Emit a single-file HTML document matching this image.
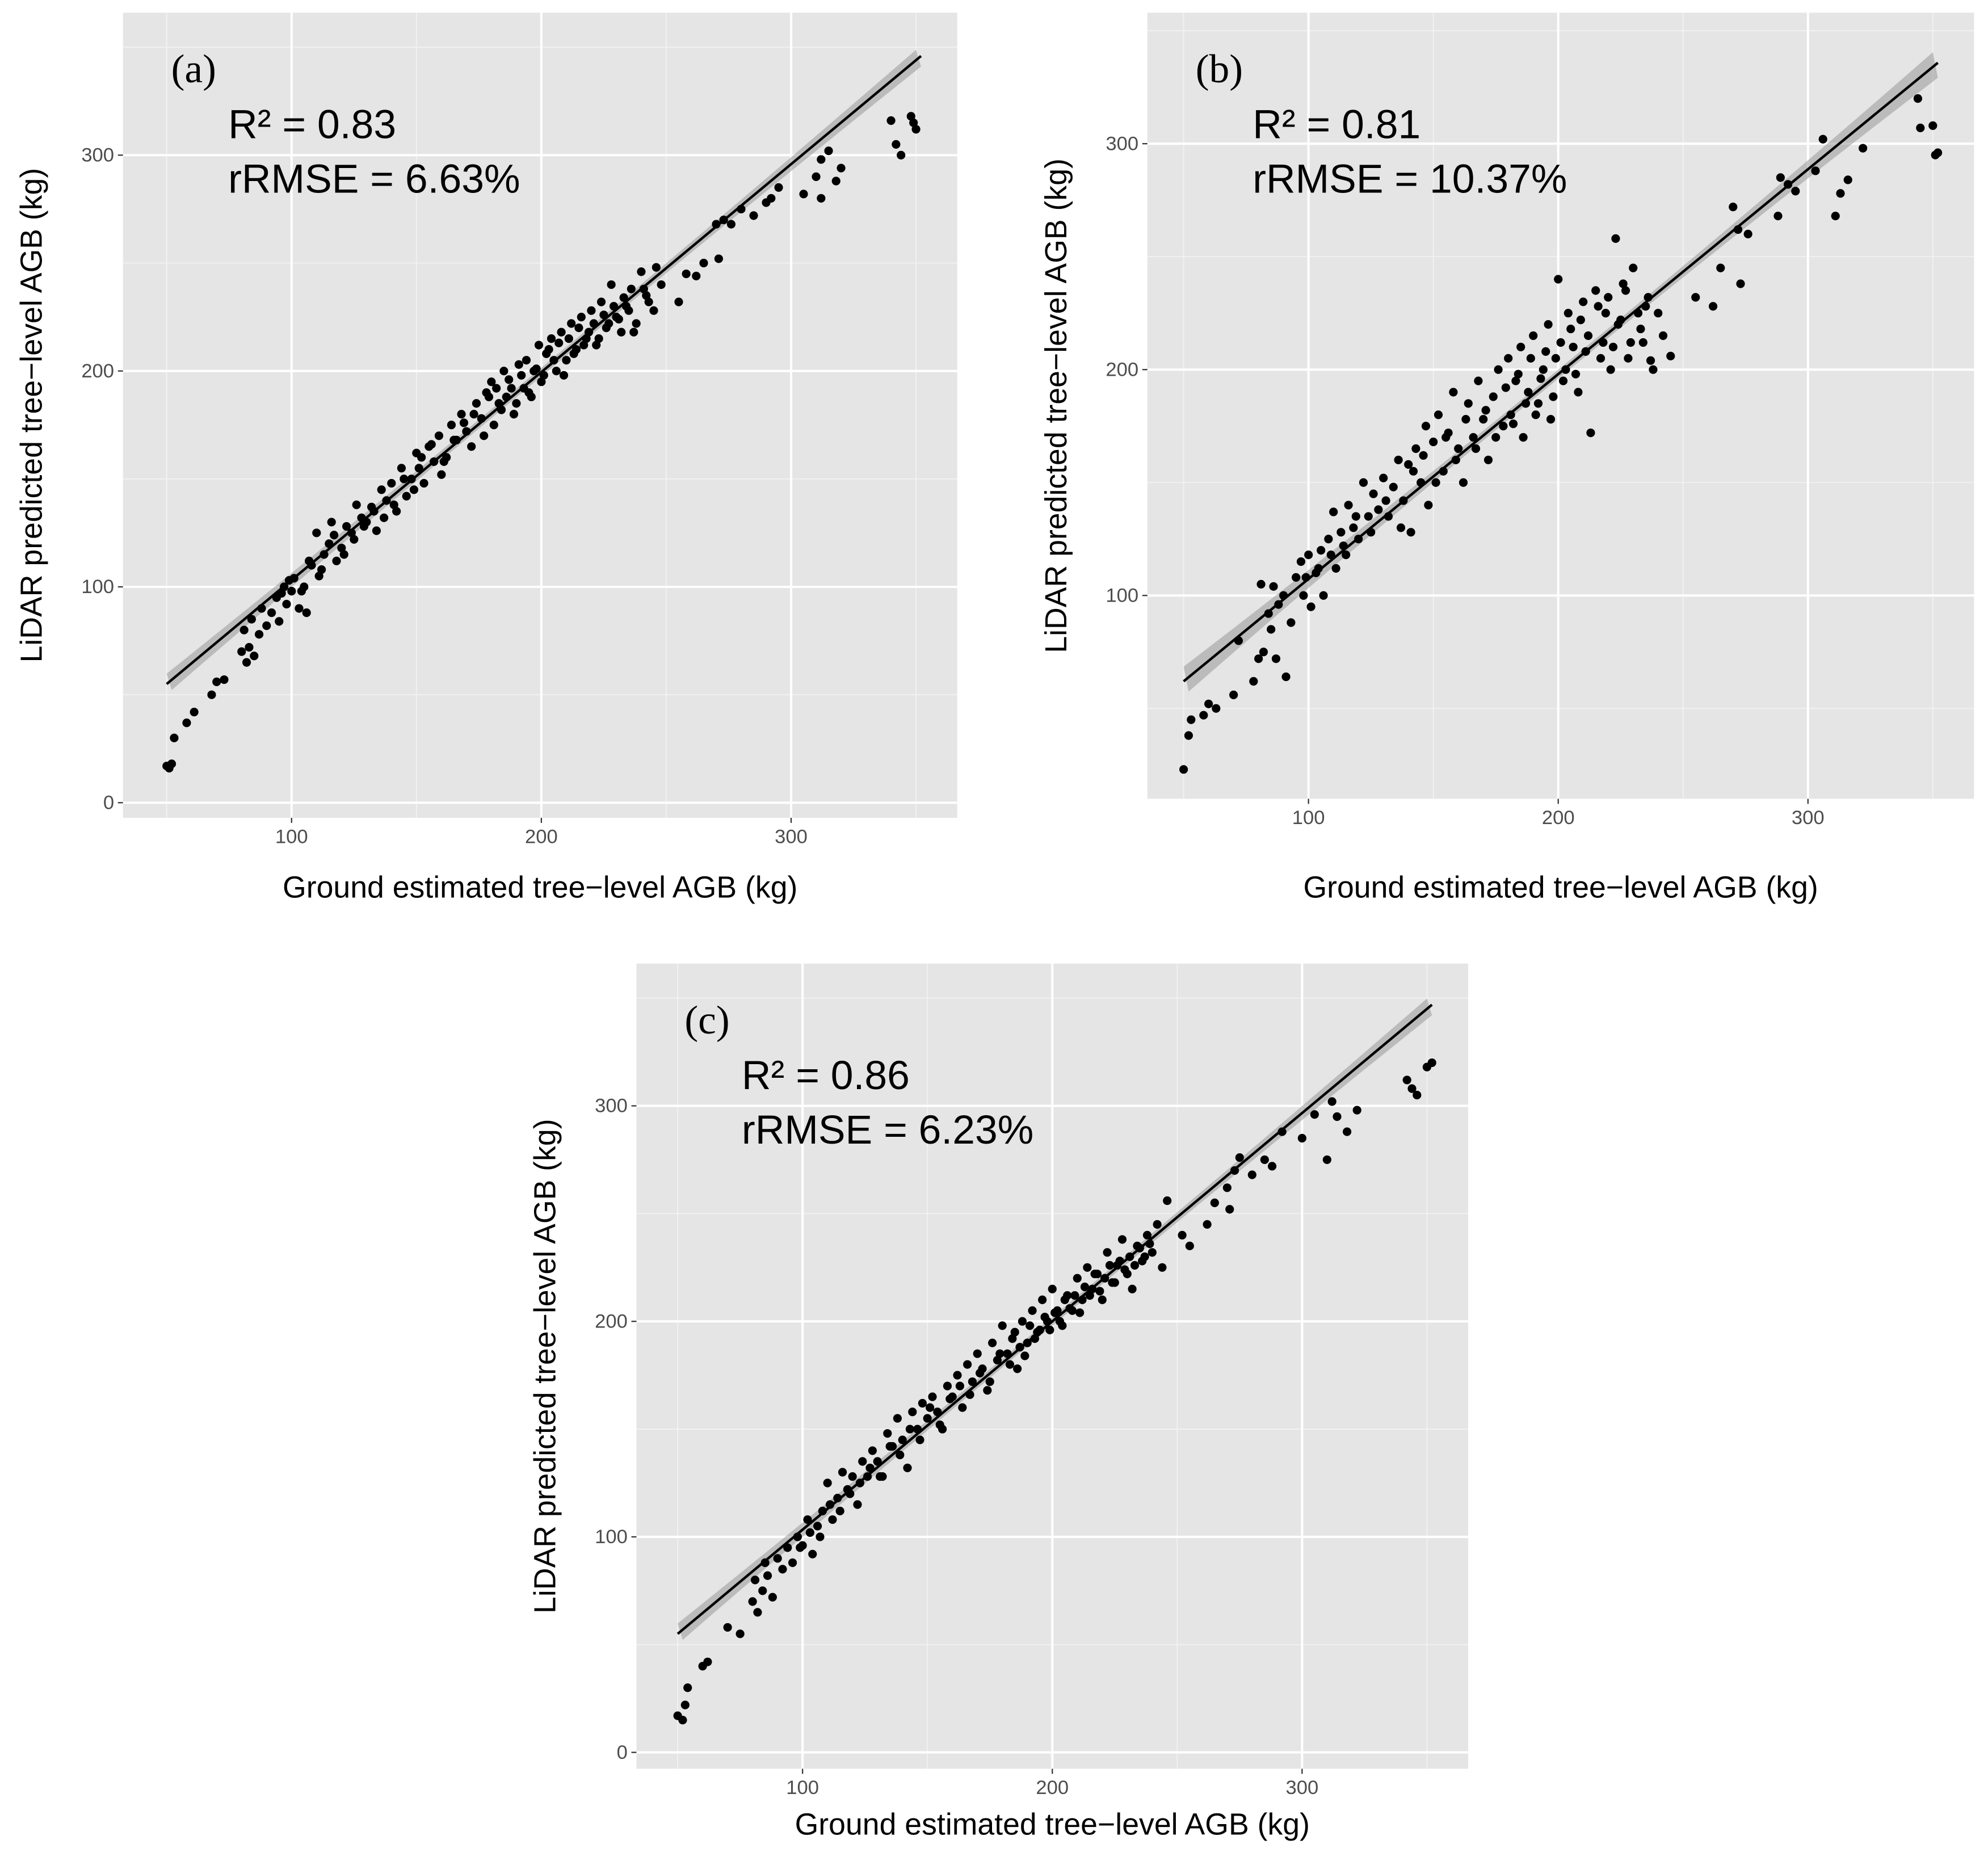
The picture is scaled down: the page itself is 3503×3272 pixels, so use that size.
<!DOCTYPE html>
<html><head><meta charset="utf-8"><style>
html,body{margin:0;padding:0;background:#fff}
svg{display:block}
</style></head><body>
<svg id="fig" width="3503" height="3272" viewBox="0 0 1568 1464.6" xmlns="http://www.w3.org/2000/svg" font-family="Liberation Sans, sans-serif"></svg>
<script>
const xTicks=[100,200,300];
const yTicksA=[0,100,200,300];
const yTicksB=[100,200,300];
const aX=[50,51,52,53,58,61,68,70,73,80,81,82,83,84,85,87,88,90,92,94,95,97,98,100,101,103,105,106,108,110,111,113,115,116,118,120,122,124,126,128,130,132,134,136,138,140,142,144,146,148,150,151,153,155,157,159,160,162,164,166,168,170,172,174,176,178,180,181,183,185,186,188,190,192,194,195,197,199,200,202,204,206,208,210,212,214,216,218,220,222,224,226,228,230,232,234,236,238,240,242,245,248,255,258,262,265,270,271,273,276,280,285,290,292,295,305,310,312,315,318,320,312,340,342,344,348,350,349,
 96,99,104,107,112,117,121,125,129,133,137,141,145,149,152,156,161,165,169,173,177,179,182,184,187,189,191,193,196,198,201,203,205,207,209,211,213,215,217,219,221,223,225,227,229,231,233,235,237,241,243,246];
const aY=[17,16,18,30,37,42,50,56,57,70,80,65,72,85,68,78,90,82,88,95,84,100,92,98,104,90,100,88,110,125,105,115,120,130,112,118,128,125,138,132,130,137,126,145,140,148,135,155,142,150,162,155,148,165,158,170,152,160,175,168,180,172,165,185,178,190,195,175,185,200,188,192,185,198,205,190,200,212,195,208,215,200,218,205,222,210,225,215,228,212,232,220,240,225,218,230,238,222,246,235,228,240,232,245,244,250,268,252,270,268,275,272,278,280,285,282,290,298,302,288,294,280,316,305,300,318,312,315,
 97,103,98,112,108,124,115,122,128,135,132,138,150,145,160,166,158,168,176,180,170,188,192,182,196,180,203,192,188,201,198,210,205,213,198,215,208,220,212,218,222,215,226,222,230,224,234,228,218,238,232,248];
const bX=[50,52,53,58,60,63,70,72,78,80,81,82,84,85,86,87,88,90,91,93,95,97,98,100,101,103,105,106,108,110,111,113,115,116,118,120,122,124,126,128,130,132,134,136,138,140,141,143,145,147,148,150,152,154,156,158,160,162,164,166,168,170,172,174,176,178,180,181,183,185,186,188,190,192,194,196,197,199,200,202,204,206,208,210,212,213,215,217,219,221,223,224,226,228,230,232,234,236,238,240,242,245,255,262,265,270,272,273,276,288,289,292,295,303,306,311,313,316,322,344,345,350,351,352,
 99,104,109,114,119,125,131,137,142,146,151,155,159,163,167,171,175,179,182,184,187,189,191,193,195,198,201,203,205,207,209,211,216,218,220,222,225,227,229,233,235,237];
const bY=[23,38,45,47,52,50,56,80,62,72,105,75,92,85,104,72,96,100,64,88,108,115,100,118,95,110,120,100,125,137,112,128,118,140,130,125,150,135,145,138,152,135,148,160,142,158,128,165,150,175,140,168,180,155,172,190,165,150,185,170,195,178,160,188,200,175,205,180,195,210,170,190,215,185,200,220,178,205,240,195,225,210,190,230,215,172,235,205,225,200,258,220,238,205,245,225,212,232,200,225,215,206,232,228,245,272,262,238,260,268,285,282,279,288,302,268,278,284,298,320,307,308,295,296,
 108,112,118,122,135,128,142,130,155,162,150,170,160,178,165,182,170,192,176,198,185,205,180,196,208,188,212,200,218,198,222,208,228,212,232,210,222,235,212,218,228,204];
const cX=[50,52,53,54,60,62,70,75,80,81,82,84,85,86,88,90,92,94,96,98,100,102,104,106,108,110,112,114,116,118,120,122,124,126,128,130,132,134,136,138,140,142,144,146,148,150,152,154,156,158,160,162,164,166,168,170,172,174,176,178,180,182,184,186,188,190,192,194,196,198,200,202,204,206,208,210,212,214,216,218,220,222,224,226,228,230,232,234,236,238,240,242,244,246,252,255,262,265,270,271,273,275,280,285,288,292,300,305,310,312,314,318,322,342,344,346,350,352,
 99,103,107,111,115,119,123,127,131,135,139,143,147,151,155,159,163,167,171,175,179,183,185,187,189,191,193,195,197,199,201,203,205,207,209,211,213,215,217,219,221,223,225,227,229,231,233,235,237,239];
const cY=[17,15,22,30,40,42,58,55,70,80,65,75,88,82,72,90,85,95,88,100,96,108,92,105,112,125,108,118,130,122,128,115,135,128,140,135,128,148,142,155,145,132,158,150,162,155,165,158,150,170,165,175,160,180,172,185,178,168,190,182,198,185,192,178,200,190,205,195,210,200,215,205,198,212,205,220,210,225,215,222,210,232,218,226,238,222,215,235,228,240,232,245,225,256,240,235,245,255,262,252,270,276,268,275,272,288,285,296,275,302,295,288,298,312,308,305,318,320,
 95,102,100,115,112,120,125,132,128,142,138,150,145,160,152,164,170,166,176,172,185,180,195,188,184,198,192,196,202,196,204,200,210,206,212,204,216,212,222,214,220,226,218,228,224,230,226,234,230,236];
const fitA=[55,344], fitB=[62,334], fitC=[55,345];

const svg=document.getElementById('fig');
const NS='http://www.w3.org/2000/svg';
function mk(tag,attrs,parent){const e=document.createElementNS(NS,tag);for(const k in attrs)e.setAttribute(k,attrs[k]);(parent||svg).appendChild(e);return e;}

function panel(cfg){
  const g=mk('g',{});
  
  
  const {L,R,T,B,xmin,xmax,ymin,ymax}=cfg;
  const sx=v=>L+(v-xmin)/(xmax-xmin)*(R-L);
  const sy=v=>B-(v-ymin)/(ymax-ymin)*(B-T);
  const bg=mk('rect',{x:L,y:T,width:R-L,height:B-T,fill:'#e5e5e5'},g);
  
  
  const minors=[50,150,250,350];
  minors.forEach(v=>{
    if(v>xmin&&v<xmax)mk('line',{x1:sx(v),x2:sx(v),y1:T,y2:B,stroke:'#f2f2f2','stroke-width':0.8},g);
    if(v>ymin&&v<ymax)mk('line',{x1:L,x2:R,y1:sy(v),y2:sy(v),stroke:'#f2f2f2','stroke-width':0.8},g);
  });
  xTicks.forEach(v=>{
    const l=mk('line',{x1:sx(v),x2:sx(v),y1:T,y2:B,stroke:'#fff','stroke-width':1.8},g);
    
    
    mk('line',{x1:sx(v),x2:sx(v),y1:B,y2:B+4,stroke:'#333','stroke-width':1},g);
    const t=mk('text',{x:sx(v),y:B+20,'font-size':15.5,'text-anchor':'middle',fill:'#4d4d4d'},g);
    t.textContent=v;
    
    
  });
  cfg.yTicks.forEach(v=>{
    const l=mk('line',{x1:L,x2:R,y1:sy(v),y2:sy(v),stroke:'#fff','stroke-width':1.8},g);
    
    
    mk('line',{x1:L-4,x2:L,y1:sy(v),y2:sy(v),stroke:'#333','stroke-width':1},g);
    const t=mk('text',{x:L-7,y:sy(v)+5,'font-size':15.5,'text-anchor':'end',fill:'#4d4d4d'},g);
    t.textContent=v;
    
    
  });
  const f=cfg.fit, x0=50, x1=352;
  const slope=(f[1]-f[0])/300;
  const yAt=x=>f[0]+slope*(x-50);
  const w=x=>2+0.0005*Math.pow(x-200,2)*cfg.bw;
  let pts=[];
  for(let x=x0;x<=x1;x+=6)pts.push(sx(x)+','+sy(yAt(x)+w(x)));
  for(let x=x1;x>=x0;x-=6)pts.push(sx(x)+','+sy(yAt(x)-w(x)));
  const band=mk('polygon',{points:pts.join(' '),fill:'#999','fill-opacity':0.55},g);
  
  
  cfg.xs.forEach((x,i)=>{
    const c=mk('circle',{cx:sx(x),cy:sy(cfg.ys[i]),r:3.4,fill:'#000'},g);
    
    
  });
  const ln=mk('line',{x1:sx(x0),y1:sy(yAt(x0)),x2:sx(x1),y2:sy(yAt(x1)),stroke:'#000','stroke-width':2},g);
  
  
  const xt=mk('text',{x:(L+R)/2,y:B+cfg.xtOff,'font-size':24,'text-anchor':'middle',fill:'#000'},g);
  xt.textContent='Ground estimated tree\u2212level AGB (kg)';
  
  
  const yt=mk('text',{x:0,y:0,'font-size':24,'text-anchor':'middle',fill:'#000',transform:`translate(${L-64},${(T+B)/2}) rotate(-90)`},g);
  yt.textContent='LiDAR predicted tree\u2212level AGB (kg)';
  
  
  const lb=mk('text',{x:L+38,y:T+55,'font-size':32,'font-family':'Liberation Serif, serif',fill:'#000'},g);
  lb.textContent=cfg.label;
  
  
  const r2=mk('text',{x:L+83,y:T+99,'font-size':32,fill:'#000'},g);
  r2.textContent=cfg.r2;
  
  
  const rm=mk('text',{x:L+83,y:T+142,'font-size':32,fill:'#000'},g);
  rm.textContent=cfg.rm;
  
  
}
panel({name:'panel-a',L:97,R:755,T:10,B:645,xmin:32.5,xmax:366.5,ymin:-7,ymax:366,yTicks:yTicksA,xs:aX,ys:aY,fit:fitA,bw:0.25,xtOff:63,label:'(a)',r2:'R\u00B2  = 0.83',rm:'rRMSE = 6.63%'});
panel({name:'panel-b',L:905,R:1557,T:10,B:630,xmin:35.5,xmax:366.5,ymin:10,ymax:358,yTicks:yTicksB,xs:bX,ys:bY,fit:fitB,bw:0.4,xtOff:78,label:'(b)',r2:'R\u00B2  = 0.81',rm:'rRMSE = 10.37%'});
panel({name:'panel-c',L:502,R:1158,T:760,B:1395,xmin:33.5,xmax:366.5,ymin:-7.6,ymax:366,yTicks:yTicksA,xs:cX,ys:cY,fit:fitC,bw:0.25,xtOff:52,label:'(c)',r2:'R\u00B2  = 0.86',rm:'rRMSE = 6.23%'});
</script>
</body></html>
